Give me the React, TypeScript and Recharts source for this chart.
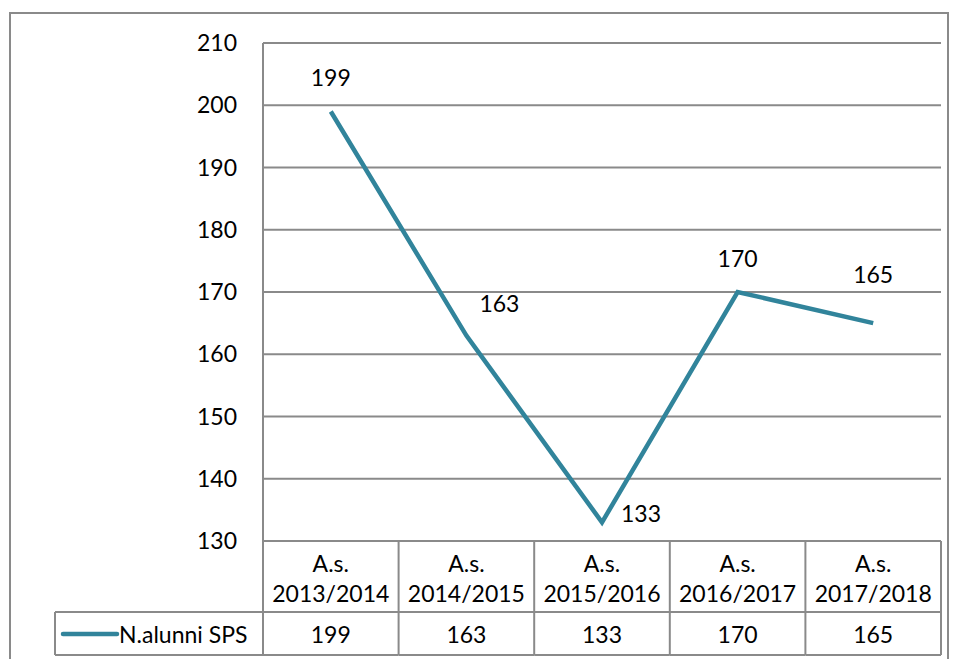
import React from "react";
import { LineChart, Line, XAxis, YAxis, CartesianGrid, LabelList, Customized } from "recharts";

// chart data
const categories = ["A.s. 2013/2014", "A.s. 2014/2015", "A.s. 2015/2016", "A.s. 2016/2017", "A.s. 2017/2018"];
const seriesName = "N.alunni SPS";
const students = [199, 163, 133, 170, 165];
const yTicks = [130, 140, 150, 160, 170, 180, 190, 200, 210];

// where Excel placed each data label, relative to its point
const labelOffsets = [
    { dx: 0, dy: -34 },
    { dx: 33, dy: -33 },
    { dx: 39, dy: -9 },
    { dx: 0, dy: -34 },
    { dx: 0, dy: -49 },
];

const W = 956;
const H = 659;
const PLOT_L = 263;
const PLOT_R = 941;
const PLOT_T = 43;
const PLOT_B = 541;
const ROW1 = 612;
const ROW2 = 655;
const LEGEND_L = 55;
const COL = (PLOT_R - PLOT_L) / categories.length;
const Y_W = 60;
const X_H = 110;
const LINE_COLOR = "#31849B";
const GRID = "#8a8a8a";
const FONT = 23;

const data = categories.map((c, i) => ({ cat: c, value: students[i] }));

const TableTick = (props: any) => {
    const { x, payload, index } = props;
    const [l1, l2] = String(payload.value).split(" ");
    const left = x - COL / 2;
    const right = x + COL / 2;
    return (<g>
      {index === 0 && <line x1={left} x2={left} y1={PLOT_B} y2={ROW2} stroke={GRID} strokeWidth={2}/>}
      <line x1={right} x2={right} y1={PLOT_B} y2={ROW2} stroke={GRID} strokeWidth={2}/>
      <line x1={left} x2={right} y1={ROW1} y2={ROW1} stroke={GRID} strokeWidth={2}/>
      <line x1={left} x2={right} y1={ROW2} y2={ROW2} stroke={GRID} strokeWidth={2}/>
      <text x={x} y={563} textAnchor="middle" dominantBaseline="central" fontSize={FONT} fill="#000">{l1}</text>
      <text x={x} y={593} textAnchor="middle" dominantBaseline="central" fontSize={FONT} fill="#000">{l2}</text>
      <text x={x} y={634} textAnchor="middle" dominantBaseline="central" fontSize={FONT} fill="#000">{students[index]}</text>
    </g>);
};

const LegendCell = () => (<g>
    <rect x={10} y={13} width={938} height={700} fill="none" stroke={GRID} strokeWidth={2}/>
    <line x1={LEGEND_L} x2={PLOT_L} y1={ROW1} y2={ROW1} stroke={GRID} strokeWidth={2}/>
    <line x1={LEGEND_L} x2={PLOT_L} y1={ROW2} y2={ROW2} stroke={GRID} strokeWidth={2}/>
    <line x1={LEGEND_L} x2={LEGEND_L} y1={ROW1} y2={ROW2} stroke={GRID} strokeWidth={2}/>
    <line x1={63} x2={117} y1={634} y2={634} stroke={LINE_COLOR} strokeWidth={4.5} strokeLinecap="round"/>
    <text x={119} y={634} dominantBaseline="central" fontSize={FONT} fill="#000">{seriesName}</text>
  </g>);

const PointLabel = (props: any) => {
    const { x, y, value, index } = props;
    const off = labelOffsets[index] || { dx: 0, dy: -30 };
    return (<text x={x + off.dx} y={y + off.dy} textAnchor="middle" dominantBaseline="central" fontSize={FONT} fill="#000">
      {value}
    </text>);
};

export default function App() {
    return (<div style={{ position: "absolute", left: 0, top: 0, width: W, height: H, background: "#fff", fontFamily: "Lato, 'Open Sans', sans-serif" }}>
      <LineChart width={W} height={H} data={data} margin={{ top: PLOT_T, right: W - PLOT_R, bottom: H - PLOT_B - X_H, left: PLOT_L - Y_W }}>
        <Customized component={LegendCell}/>
        <CartesianGrid vertical={false} stroke={GRID} strokeWidth={2}/>
        <XAxis dataKey="cat" height={X_H} interval={0} axisLine={false} tickLine={false} tickSize={0} tickMargin={0} padding={{ left: COL / 2, right: COL / 2 }} tick={<TableTick />}/>
        <YAxis width={Y_W} domain={[130, 210]} ticks={yTicks} interval={0} axisLine={{ stroke: GRID, strokeWidth: 2 }} tickLine={false} tickSize={0} tickMargin={26} tick={{ fill: "#000", fontSize: FONT }}/>
        <Line type="linear" dataKey="value" name={seriesName} stroke={LINE_COLOR} strokeWidth={4.5} dot={false} isAnimationActive={false}>
          <LabelList dataKey="value" content={<PointLabel />}/>
        </Line>
      </LineChart>
    </div>);
}
